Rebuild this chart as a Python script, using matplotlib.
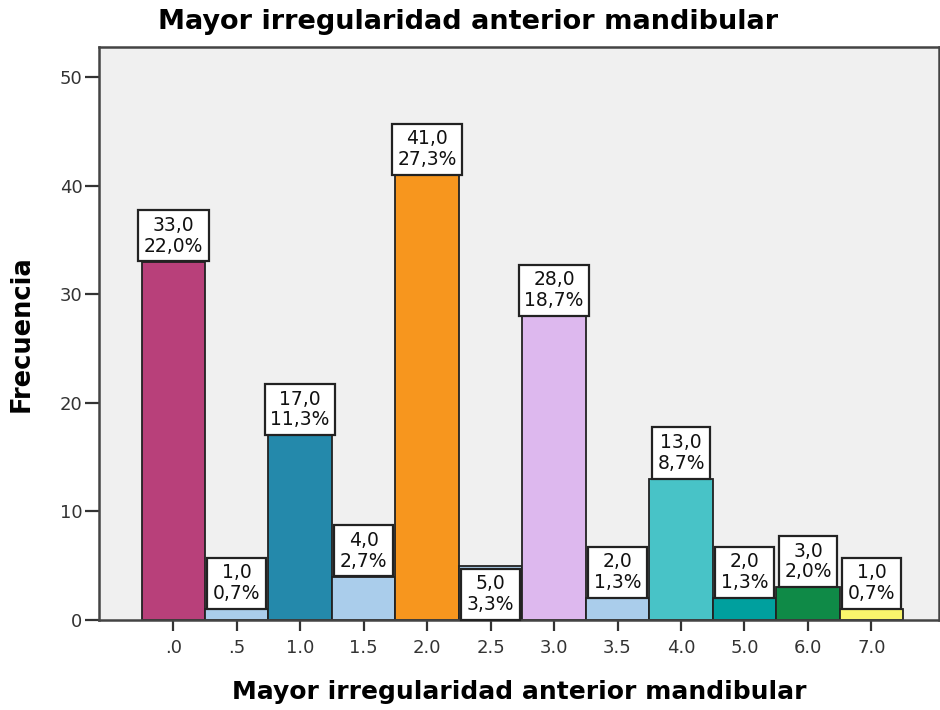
import matplotlib.pyplot as plt
from matplotlib.transforms import offset_copy

plt.rcParams['font.family'] = ['DejaVu Sans']

categories = ['.0', '.5', '1.0', '1.5', '2.0', '2.5', '3.0', '3.5', '4.0', '5.0', '6.0', '7.0']
frecuencia = [33, 1, 17, 4, 41, 5, 28, 2, 13, 2, 3, 1]
porcentaje = [22.0, 0.7, 11.3, 2.7, 27.3, 3.3, 18.7, 1.3, 8.7, 1.3, 2.0, 0.7]
colores = ['#B8407A', '#AACDEB', '#2489AB', '#AACDEB', '#F7961E', '#AACDEB',
           '#DDB8EE', '#AACDEB', '#48C3C7', '#00A09E', '#0F8A47', '#F9F56C']

fig = plt.figure(figsize=(9.4, 7.1), dpi=100)
ax = fig.add_axes([0.1053, 0.1268, 0.894, 0.807])
ax.set_facecolor('#F0F0F0')

x = list(range(len(categories)))
ax.bar(x, frecuencia, width=1.0, color=colores, edgecolor='#222222', linewidth=1.3, zorder=2)

# label boxes sit on top of the bars
trans = offset_copy(ax.transData, fig=fig, x=0, y=6, units='dots')
for i in x:
    txt = '%.1f\n%.1f%%' % (frecuencia[i], porcentaje[i])
    txt = txt.replace('.', ',')
    ypos = frecuencia[i]
    if i == 5:
        ypos = 0  # SPSS puts this one over the bar
    ax.text(i, ypos, txt, ha='center', va='bottom', fontsize=13.5, color='#111111',
            linespacing=1.12, zorder=3, transform=trans,
            bbox=dict(boxstyle='square,pad=0.3', fc='white', ec='#222222', lw=1.6))

ax.set_xlim(-1.17, 12.07)
ax.set_ylim(0, 52.8)
ax.set_xticks(x)
ax.set_xticklabels(categories)
ax.set_yticks([0, 10, 20, 30, 40, 50])
ax.tick_params(axis='both', direction='out', width=1.6, color='#333333',
               labelsize=13, labelcolor='#333333')
ax.tick_params(axis='x', length=8, pad=6)
ax.tick_params(axis='y', length=10, pad=2)

for s in ['left', 'top', 'bottom', 'right']:
    ax.spines[s].set_color('#444444')
    ax.spines[s].set_linewidth(1.8)

fig.text(0.498, 1 - 22 / 710, 'Mayor irregularidad anterior mandibular', fontsize=19.5,
         fontweight='bold', ha='center', va='center')
ax.set_xlabel('Mayor irregularidad anterior mandibular', fontsize=18, fontweight='bold', labelpad=16)
ax.set_ylabel('Frecuencia', fontsize=18.5, fontweight='bold', labelpad=18)

fig.savefig('out.png', dpi=100)
